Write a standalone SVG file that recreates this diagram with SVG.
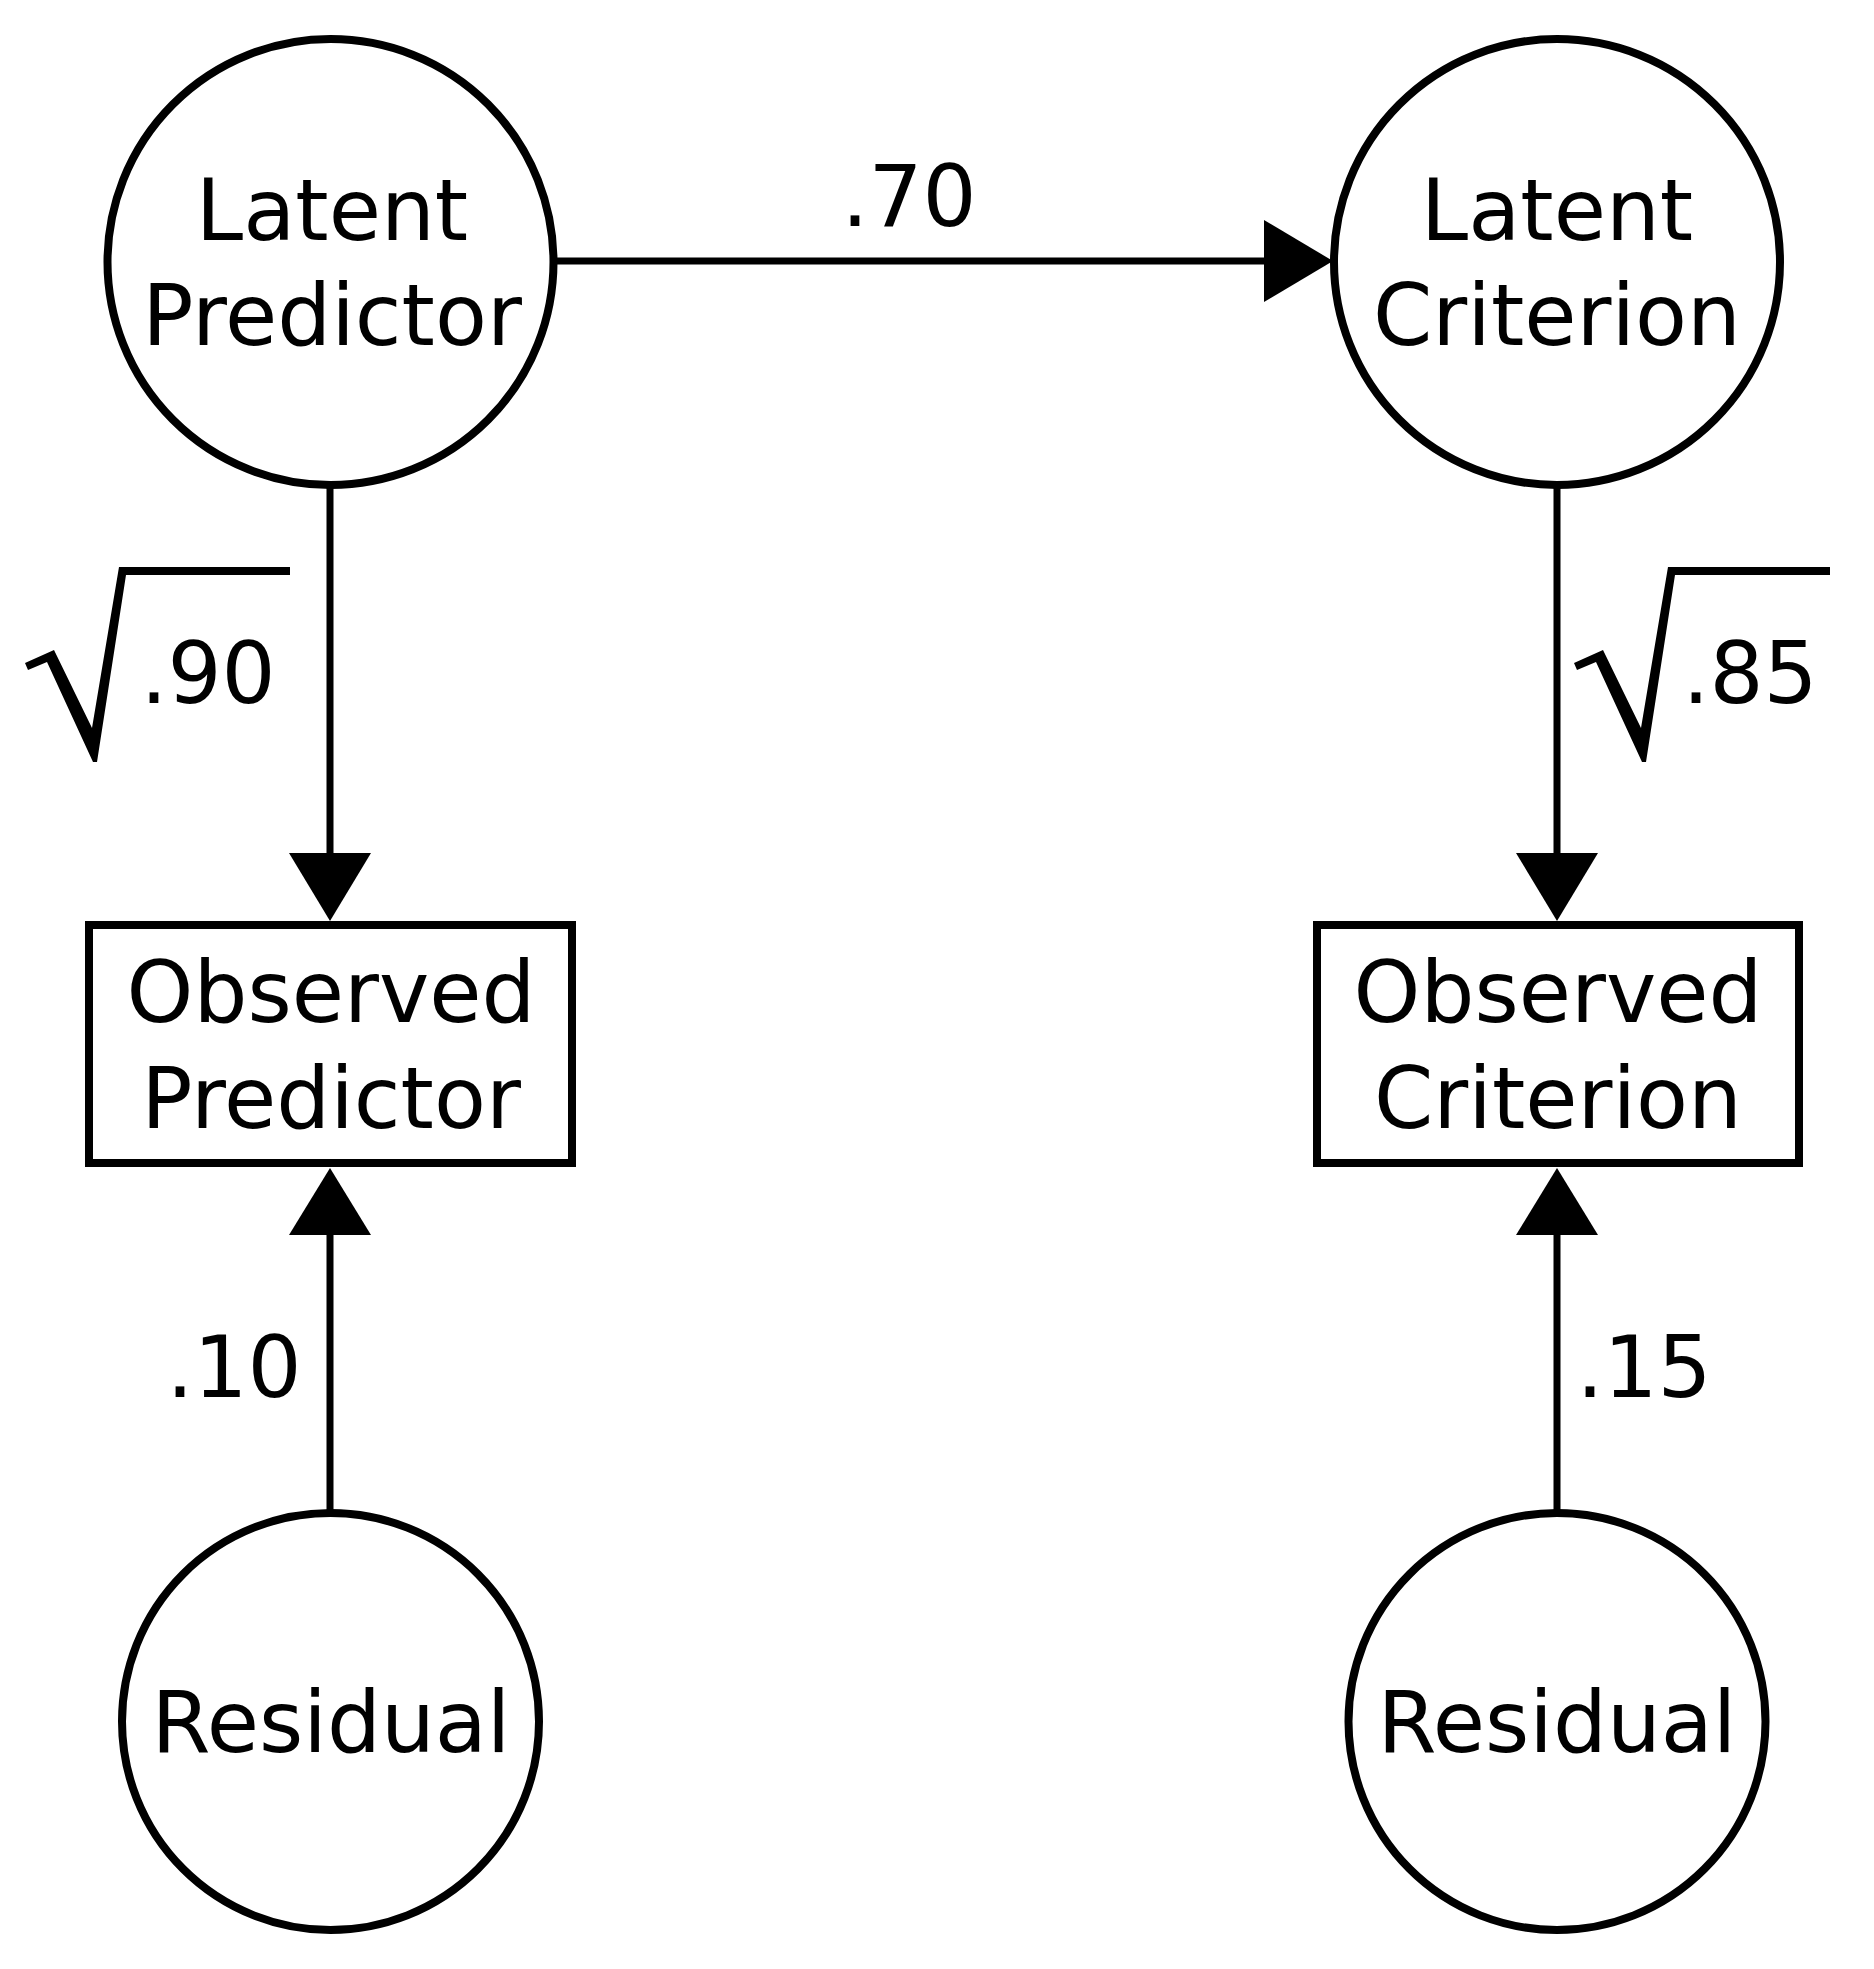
<svg xmlns="http://www.w3.org/2000/svg" width="1874" height="1969" viewBox="0 0 1874 1969">
<style>
.shape{fill:#fff;stroke:#000;stroke-width:8}
.edge{stroke:#000;stroke-width:7;fill:none}
.head{fill:#000}
.lbl{font-family:"DejaVu Sans","Liberation Sans",sans-serif;font-size:85px;fill:#000;text-anchor:middle}
.rad{fill:#000}
</style>
<rect width="1874" height="1969" fill="#fff"/>
<g id="connectors">
  <line class="edge" x1="555" y1="261" x2="1266" y2="261"/>
  <polygon class="head" points="1264,220 1333,261 1264,302"/>
  <line class="edge" x1="330" y1="486" x2="330" y2="855"/>
  <polygon class="head" points="289,853 371,853 330,921"/>
  <line class="edge" x1="1557" y1="486" x2="1557" y2="855"/>
  <polygon class="head" points="1516,853 1598,853 1557,921"/>
  <line class="edge" x1="330" y1="1512" x2="330" y2="1233"/>
  <polygon class="head" points="289,1235 371,1235 330,1168"/>
  <line class="edge" x1="1557" y1="1512" x2="1557" y2="1233"/>
  <polygon class="head" points="1516,1235 1598,1235 1557,1168"/>
  <text class="lbl" x="909" y="226">.70</text>
  <polygon class="rad" points="25,663 54,650 92,728 119,567 290,567 290,575 126,575 97,762 93,762 47,662 28,670"/>
  <text class="lbl" x="208" y="703">.90</text>
  <polygon class="rad" points="1574,663 1603,650 1641,728 1668,567 1830,567 1830,575 1675,575 1646,762 1642,762 1596,662 1577,670"/>
  <text class="lbl" x="1750" y="703">.85</text>
  <text class="lbl" x="234" y="1397">.10</text>
  <text class="lbl" x="1644" y="1397">.15</text>
</g>
<g id="latent-predictor">
  <circle class="shape" cx="330.5" cy="262" r="223"/>
  <text class="lbl" x="332" y="240">Latent</text>
  <text class="lbl" x="332" y="345">Predictor</text>
</g>
<g id="latent-criterion">
  <circle class="shape" cx="1557" cy="262" r="223"/>
  <text class="lbl" x="1557" y="240">Latent</text>
  <text class="lbl" x="1557" y="345">Criterion</text>
</g>
<g id="observed-predictor">
  <rect class="shape" x="89" y="925" width="483" height="238"/>
  <text class="lbl" x="331" y="1022">Observed</text>
  <text class="lbl" x="331" y="1128">Predictor</text>
</g>
<g id="observed-criterion">
  <rect class="shape" x="1317" y="925" width="482" height="238"/>
  <text class="lbl" x="1558" y="1022">Observed</text>
  <text class="lbl" x="1558" y="1128">Criterion</text>
</g>
<g id="residual-predictor">
  <circle class="shape" cx="330.5" cy="1721.5" r="208.5"/>
  <text class="lbl" x="331" y="1752">Residual</text>
</g>
<g id="residual-criterion">
  <circle class="shape" cx="1557" cy="1721.5" r="208.5"/>
  <text class="lbl" x="1557" y="1752">Residual</text>
</g>
</svg>
